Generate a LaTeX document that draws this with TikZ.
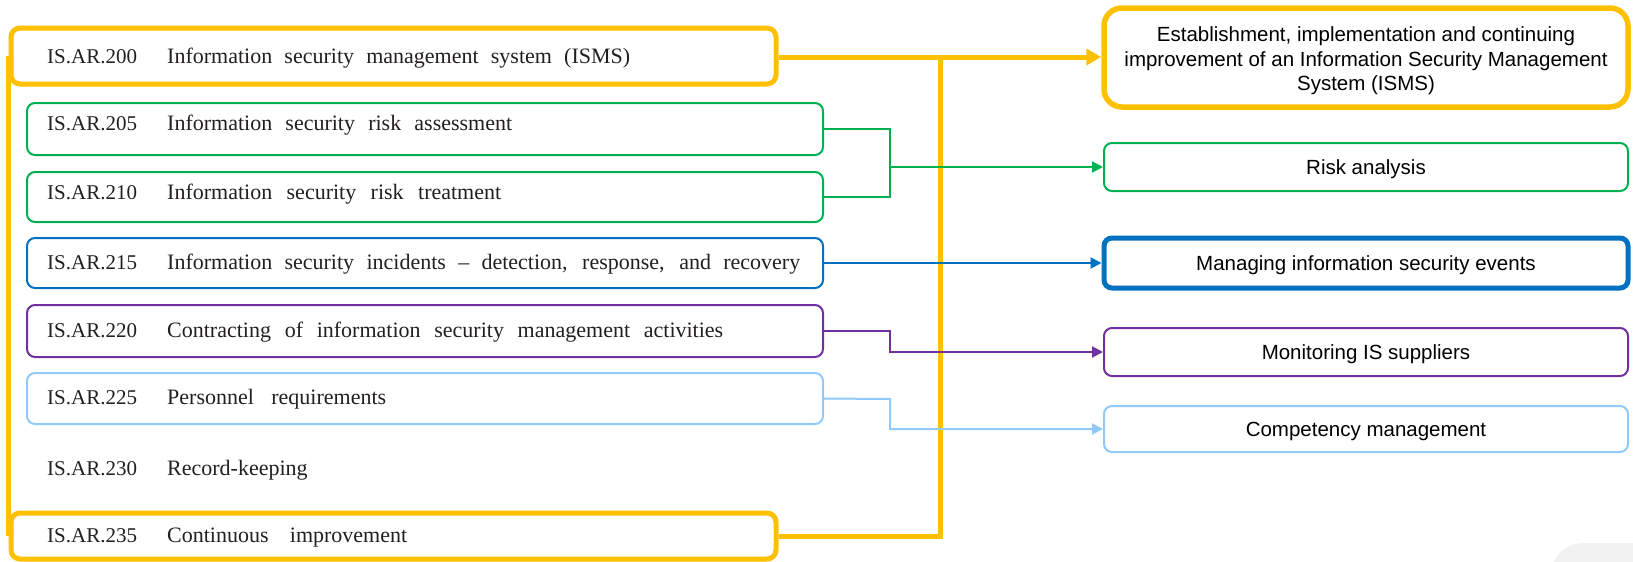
\documentclass[tikz,border=0pt]{standalone}
\usepackage{fontspec}
\setmainfont{Liberation Serif}
\newfontfamily\boxsans{Liberation Sans}
\usetikzlibrary{arrows.meta}

\definecolor{isyellow}{HTML}{FFC000}
\definecolor{isgreen}{HTML}{00B050}
\definecolor{isblue}{HTML}{0070C0}
\definecolor{ispurple}{HTML}{7030A0}
\definecolor{islight}{HTML}{8FCAFA}
\definecolor{istext}{HTML}{231F20}
\definecolor{ispale}{HTML}{F2F2F2}

% justified title line of a fixed width
\newcommand\titleline[2]{\hbox to #1pt{\spaceskip=0.15em plus 1fil\relax #2}}

\begin{document}
\begin{tikzpicture}[x=1pt,y=-1pt,
  rowbox/.style={draw, rounded corners=8pt, line width=2pt, inner sep=0pt,
    minimum width=796pt},
  keybox/.style={draw=isyellow, rounded corners=9pt, line width=5pt, inner sep=0pt,
    minimum width=765pt},
  goalbox/.style={draw, rounded corners=8pt, line width=2pt, inner sep=0pt,
    minimum width=524pt},
  goaltext/.style={inner sep=0pt, font=\boxsans\fontsize{20.5}{24.5}\selectfont,
    text=black, align=center},
  code/.style={anchor=base west, inner sep=0pt, text=istext,
    font=\fontsize{21}{24}\selectfont},
  title/.style={anchor=base west, inner sep=0pt, text=istext,
    font=\fontsize{22}{24}\selectfont},
  link/.style={line width=2pt},
  tip/.style={-{Triangle[length=11pt,width=11pt]}},
  bigtip/.style={-{Triangle[length=15pt,width=16pt]}}
]
\useasboundingbox (0,0) rectangle (1633,562);

% pale shape in the lower right corner
\begin{scope}
  \clip (0,0) rectangle (1633,562);
  \fill[ispale, rounded corners=34pt] (1550,543) rectangle (1720,640);
\end{scope}

% requirement rows
\node[keybox, minimum height=56pt] (b200) at (393.5,56) {};
\node[rowbox, draw=isgreen, minimum height=52pt] (b205) at (425,129) {};
\node[rowbox, draw=isgreen, minimum height=50pt] (b210) at (425,197) {};
\node[rowbox, draw=isblue, minimum height=50pt] (b215) at (425,263) {};
\node[rowbox, draw=ispurple, minimum height=52pt] (b220) at (425,331) {};
\node[rowbox, draw=islight, minimum height=51pt] (b225) at (425,398.5) {};
\node[keybox, minimum height=46pt] (b235) at (393.5,536) {};

% yellow spine joining the first and last rows
\draw[isyellow, line width=5pt] (b200.west) -- (b235.west);

\node[code] (c200) at (47,63) {IS.AR.200};
\node[title] (t200) at (167,63) {\titleline{463}{Information security management system (ISMS)}};
\node[code] (c205) at (47,130) {IS.AR.205};
\node[title] (t205) at (167,130) {\titleline{345}{Information security risk assessment}};
\node[code] (c210) at (47,199) {IS.AR.210};
\node[title] (t210) at (167,199) {\titleline{334}{Information security risk treatment}};
\node[code] (c215) at (47,269) {IS.AR.215};
\node[title] (t215) at (167,269) {\titleline{633}{Information security incidents – detection, response, and recovery}};
\node[code] (c220) at (47,337) {IS.AR.220};
\node[title] (t220) at (167,337) {\titleline{556}{Contracting of information security management activities}};
\node[code] (c225) at (47,404) {IS.AR.225};
\node[title] (t225) at (167,404) {\titleline{219}{Personnel requirements}};
\node[code] (c230) at (47,475) {IS.AR.230};
\node[title] (t230) at (167,475) {Record-keeping};
\node[code] (c235) at (47,542) {IS.AR.235};
\node[title] (t235) at (167,542) {\titleline{240}{Continuous improvement}};

% outcome boxes
\node[goalbox, draw=isyellow, line width=5.5pt, rounded corners=18pt, minimum height=99pt]
  (rEst) at (1366,57.5) {};
\node[goalbox, draw=isgreen, minimum height=48pt] (rRisk) at (1366,167) {};
\node[goalbox, draw=isblue, line width=5pt, minimum height=50pt] (rMan) at (1366,263) {};
\node[goalbox, draw=ispurple, minimum height=48pt] (rMon) at (1366,352) {};
\node[goalbox, draw=islight, minimum height=46pt] (rComp) at (1366,429) {};

\node[goaltext] (lEst) at ([yshift=-3.5pt]rEst.center)
  {Establishment, implementation and continuing\\
  improvement of an Information Security Management\\System (ISMS)};
\node[goaltext] (lRisk) at ([yshift=-2.5pt]rRisk.center) {Risk analysis};
\node[goaltext] (lMan) at ([yshift=-2.5pt]rMan.center) {Managing information security events};
\node[goaltext] (lMon) at ([yshift=-2.5pt]rMon.center) {Monitoring IS suppliers};
\node[goaltext] (lComp) at ([yshift=-2pt]rComp.center) {Competency management};

% junction points
\coordinate (yj) at (940,57);
\coordinate (gj) at (890,167);
\coordinate (pj) at (890,331);
\coordinate (lj) at (890,399);

% connectors
\draw[isyellow, line width=5pt, bigtip] (b200.east |- yj) -- (yj -| rEst.west);
\draw[isyellow, line width=5pt] (b235.east) -| (yj);

\draw[isgreen, link] (b205.east) -| (gj |- b210.east) -- (b210.east);
\draw[isgreen, link, tip] (gj) -- (rRisk.west);

\draw[isblue, link, tip] (b215.east) -- (rMan.west);

\draw[ispurple, link, tip] (b220.east) -- (pj) |- (rMon.west);

\draw[islight, link, tip] (b225.east) -- (lj) |- (rComp.west);

\end{tikzpicture}
\end{document}
